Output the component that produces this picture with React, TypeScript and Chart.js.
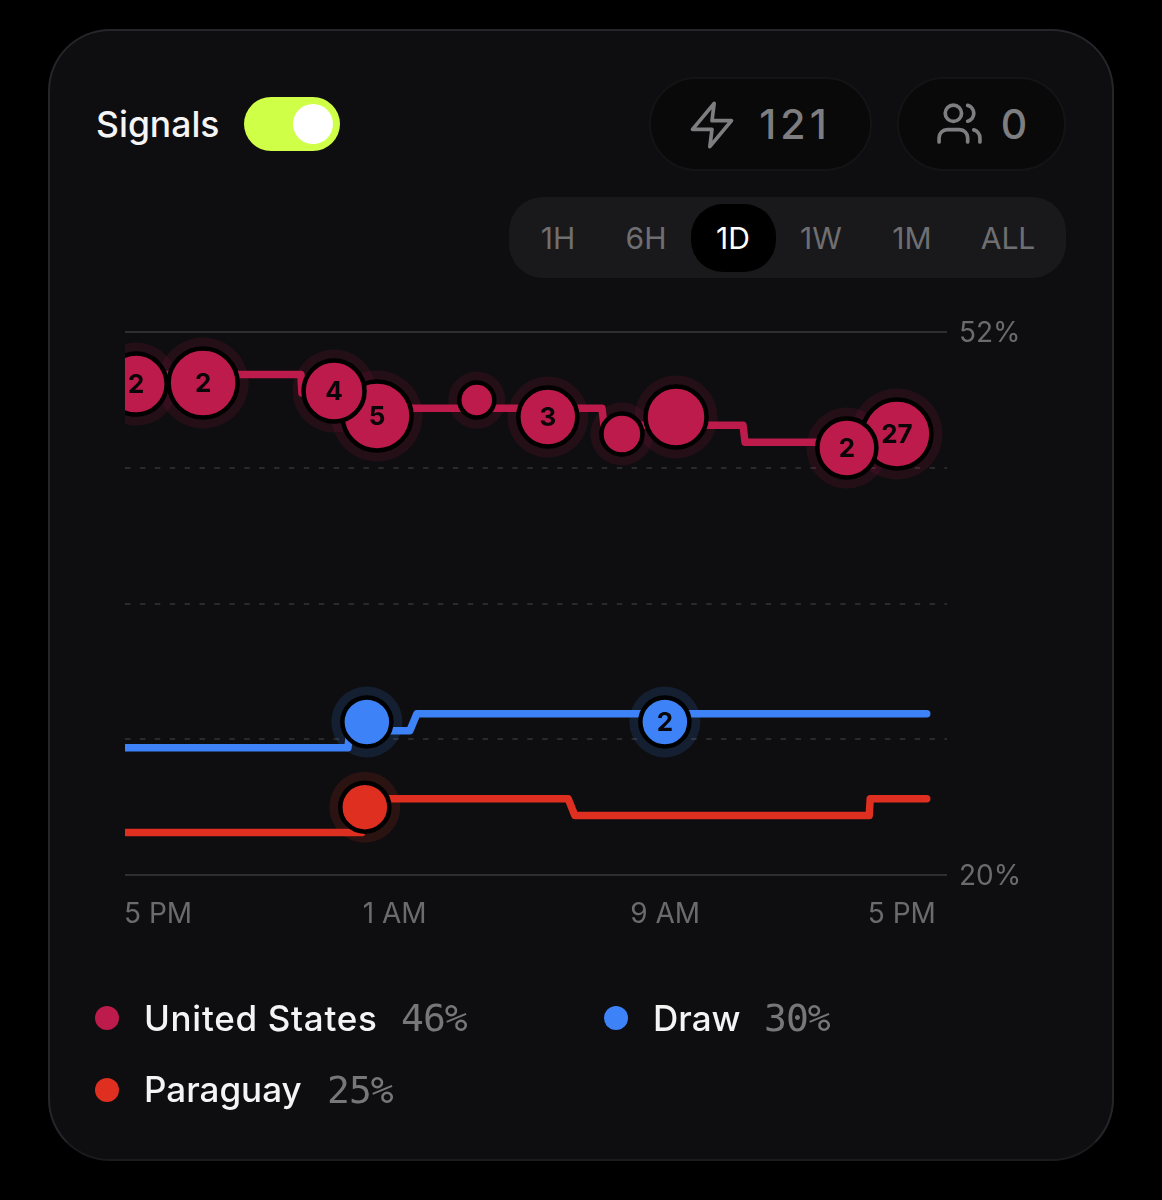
import React, { useEffect, useRef } from "react";
import { Chart, registerables } from "chart.js";

Chart.register(...registerables);

const xTickHours = [0, 8, 16, 24];
const xTickLabels = ["5 PM", "1 AM", "9 AM", "5 PM"];
const yTicks = [20, 28, 36, 44, 52];
const yTickLabels = ["20%", "", "", "", "52%"];
const timeTabs = ["1H", "6H", "1D", "1W", "1M", "ALL"];

const usLineX = [0, 5.2, 5.23, 6.5, 6.56, 14.1, 14.16, 18.27, 18.33, 23.7];
const usLineY = [49.5, 49.5, 48.4, 48.4, 47.5, 47.5, 46.5, 46.5, 45.5, 45.5];
const drawLineX = [0, 6.59, 6.65, 8.42, 8.63, 23.7];
const drawLineY = [27.5, 27.5, 28.5, 28.5, 29.5, 29.5];
const paraguayLineX = [0, 7.0, 7.18, 13.1, 13.3, 22.0, 22.03, 23.7];
const paraguayLineY = [22.5, 22.5, 24.5, 24.5, 23.5, 23.5, 24.5, 24.5];

const usSignalX = [0.33, 2.31, 7.45, 6.18, 10.4, 12.5, 14.69, 16.29, 22.82, 21.34];
const usSignalY = [48.93, 48.99, 47.05, 48.52, 47.99, 46.99, 45.99, 46.99, 45.99, 45.16];
const usSignalR = [30.5, 34.5, 34.5, 30.5, 17.5, 29.5, 20.5, 30.5, 34.5, 29.5];
const usSignalCount = ["2", "2", "5", "4", "", "3", "", "", "27", "2"];
const drawSignalX = [7.15, 15.96];
const drawSignalY = [29.02, 29.02];
const drawSignalR = [24.5, 24.5];
const drawSignalCount = ["", "2"];
const paraguaySignalX = [7.09];
const paraguaySignalY = [24.0];
const paraguaySignalR = [24.5];
const paraguaySignalCount = [""];

const US = "#BC1B4C";
const BLUE = "#3D83F7";
const RED = "#DE2F21";
const HALO = 9;
const FONT = "Inter, 'Noto Sans', sans-serif";

const line = (label: string, xs: number[], ys: number[], color: string) => ({
  type: "line" as const,
  label,
  data: xs.map((x, i) => ({ x, y: ys[i] })),
  borderColor: color,
  borderWidth: 7.5,
  borderJoinStyle: "round" as const,
  borderCapStyle: "round" as const,
  pointRadius: 0,
  tension: 0,
  order: 1,
  clip: { left: 0, top: false, right: false, bottom: false },
});

const signals = (label: string, xs: number[], ys: number[], rs: number[], counts: string[], color: string) => ({
  type: "bubble" as const,
  label,
  counts,
  data: xs.map((x, i) => ({ x, y: ys[i], r: rs[i] })),
  backgroundColor: color,
  borderColor: "#000000",
  borderWidth: 4.5,
  order: 0,
  clip: { left: 0, top: false, right: false, bottom: false },
});

const halos = (label: string, xs: number[], ys: number[], rs: number[], color: string) => ({
  type: "bubble" as const,
  label,
  data: xs.map((x, i) => ({ x, y: ys[i], r: rs[i] + 2 + HALO })),
  backgroundColor: color,
  borderWidth: 0,
  order: 2,
  clip: { left: 0, top: false, right: false, bottom: false },
});

const countLabels = {
  id: "countLabels",
  afterDatasetsDraw(chart: any) {
    const ctx = chart.ctx;
    ctx.save();
    ctx.font = `700 26px ${FONT}`;
    ctx.fillStyle = "#0a0508";
    ctx.textAlign = "center";
    ctx.textBaseline = "middle";
    chart.data.datasets.forEach((ds: any, i: number) => {
      if (!ds.counts) return;
      chart.getDatasetMeta(i).data.forEach((el: any, j: number) => {
        if (ds.counts[j]) ctx.fillText(ds.counts[j], el.x, el.y + 1.5);
      });
    });
    ctx.restore();
  },
};

const abs = (left: number, top: number, extra: React.CSSProperties = {}): React.CSSProperties => ({
  position: "absolute",
  left,
  top,
  ...extra,
});

function Centered({ cx, cy, children, style }: { cx: number; cy: number; children: React.ReactNode; style: React.CSSProperties }) {
  return (
    <div style={{ position: "absolute", left: cx, top: cy, transform: "translate(-50%,-50%)", whiteSpace: "nowrap", fontFamily: FONT, ...style }}>
      {children}
    </div>
  );
}

function LeftText({ x, cy, children, style }: { x: number; cy: number; children: React.ReactNode; style: React.CSSProperties }) {
  return (
    <div style={{ position: "absolute", left: x, top: cy, transform: "translateY(-50%)", whiteSpace: "nowrap", fontFamily: FONT, ...style }}>
      {children}
    </div>
  );
}

const legendName: React.CSSProperties = { color: "#F4F4F5", fontSize: 35, fontWeight: 500 };
const legendPct: React.CSSProperties = {
  color: "#77777A",
  fontSize: 38,
  fontFamily: "'DejaVu Sans Mono', monospace",
  letterSpacing: -1,
};
const dot = (cx: number, cy: number, color: string): React.CSSProperties => ({
  position: "absolute",
  left: cx - 12,
  top: cy - 12,
  width: 24,
  height: 24,
  borderRadius: "50%",
  background: color,
});

export default function App() {
  const ref = useRef<HTMLCanvasElement>(null);

  useEffect(() => {
    const chart = new Chart(ref.current!, {
      type: "line",
      data: {
        datasets: [
          signals("United States signals", usSignalX, usSignalY, usSignalR, usSignalCount, US),
          signals("Draw signals", drawSignalX, drawSignalY, drawSignalR, drawSignalCount, BLUE),
          signals("Paraguay signals", paraguaySignalX, paraguaySignalY, paraguaySignalR, paraguaySignalCount, RED),
          line("United States", usLineX, usLineY, US),
          line("Draw", drawLineX, drawLineY, BLUE),
          line("Paraguay", paraguayLineX, paraguayLineY, RED),
          halos("United States halo", usSignalX, usSignalY, usSignalR, "rgba(188,27,76,0.13)"),
          halos("Draw halo", drawSignalX, drawSignalY, drawSignalR, "rgba(61,131,247,0.15)"),
          halos("Paraguay halo", paraguaySignalX, paraguaySignalY, paraguaySignalR, "rgba(222,47,33,0.14)"),
        ] as any,
      },
      options: {
        animation: false,
        responsive: false,
        events: [],
        layout: { padding: { left: 125, top: 332, right: 125, bottom: 275 } },
        plugins: { legend: { display: false }, tooltip: { enabled: false } },
        scales: {
          x: {
            type: "linear",
            min: 0,
            max: 24.3,
            grid: { display: false, drawTicks: false },
            border: { display: false },
            afterBuildTicks: (s: any) => {
              s.ticks = xTickHours.map((value) => ({ value }));
            },
            afterFit: (s: any) => {
              s.height = 50;
            },
            ticks: {
              autoSkip: false,
              maxRotation: 0,
              align: "inner",
              padding: 23,
              labelOffset: -1,
              color: "#6B6B6E",
              font: { family: FONT, size: 28 },
              callback: (v: any) => xTickLabels[xTickHours.indexOf(v)] ?? "",
            },
          },
          y: {
            type: "linear",
            position: "right",
            min: 20,
            max: 52,
            afterBuildTicks: (s: any) => {
              s.ticks = yTicks.map((value) => ({ value }));
            },
            afterFit: (s: any) => {
              s.width = 90;
            },
            grid: {
              drawTicks: false,
              lineWidth: 2,
              color: (c: any) => (c.tick && (c.tick.value === 20 || c.tick.value === 52) ? "#2E2E30" : "#2A2A2C"),
            },
            border: {
              display: false,
              dash: (c: any) => (c.tick && (c.tick.value === 20 || c.tick.value === 52) ? [] : [5.5, 9.4]),
            } as any,
            ticks: {
              autoSkip: false,
              padding: 12,
              labelOffset: 2,
              color: "#6B6B6E",
              font: { family: FONT, size: 28 },
              callback: (v: any) => yTickLabels[yTicks.indexOf(v)] ?? "",
            },
          },
        },
      },
      plugins: [countLabels],
    } as any);
    return () => chart.destroy();
  }, []);

  const tabCenters = [558, 646, 733, 821, 912, 1008];

  return (
    <div style={{ position: "absolute", left: 0, top: 0, width: 1162, height: 1200, background: "#000", overflow: "hidden" }}>
      <style>{`body{margin:0;background:#000}`}</style>

      <div style={abs(48, 29, { width: 1066, height: 1132, boxSizing: "border-box", background: "#0E0E10", border: "2px solid #26262A", borderBottomColor: "#1B1B1E", borderRadius: 62 })} />

      <LeftText x={96} cy={124} style={{ color: "#F4F4F5", fontSize: 35.5, fontWeight: 500 }}>Signals</LeftText>
      <div style={abs(244, 97, { width: 96, height: 54, borderRadius: 27, background: "#CFFF47" })} />
      <div style={abs(293, 104, { width: 40, height: 40, borderRadius: "50%", background: "#FFFFFF" })} />

      <div style={abs(649, 77, { width: 223, height: 94, boxSizing: "border-box", borderRadius: 47, background: "#09090A", border: "2px solid #141416" })} />
      <div style={abs(897, 77, { width: 169, height: 94, boxSizing: "border-box", borderRadius: 47, background: "#09090A", border: "2px solid #141416" })} />

      <svg style={abs(686, 99)} width={52} height={52} viewBox="0 0 24 24" fill="none" stroke="#7E7E80" strokeWidth={1.7} strokeLinejoin="round" strokeLinecap="round">
        <path d="M13 2 3 14h9l-1 8 10-12h-9l1-8z" />
      </svg>
      <svg style={abs(935, 99)} width={49} height={49} viewBox="0 0 24 24" fill="none" stroke="#7E7E80" strokeWidth={1.8} strokeLinejoin="round" strokeLinecap="round">
        <path d="M16 21v-2a4 4 0 0 0-4-4H6a4 4 0 0 0-4 4v2" />
        <circle cx={9} cy={7} r={4} />
        <path d="M22 21v-2a4 4 0 0 0-3-3.87" />
        <path d="M16 3.13a4 4 0 0 1 0 7.75" />
      </svg>
      <Centered cx={795} cy={124} style={{ color: "#7E7E80", fontSize: 41, fontWeight: 500, letterSpacing: 4 }}>121</Centered>
      <Centered cx={1014} cy={124} style={{ color: "#7E7E80", fontSize: 41, fontWeight: 500 }}>0</Centered>

      <div style={abs(509, 197, { width: 557, height: 81, borderRadius: 34, background: "#19191B" })} />
      <div style={abs(691, 204, { width: 85, height: 68, borderRadius: 32, background: "#000" })} />
      {timeTabs.map((t, i) => (
        <Centered key={t} cx={tabCenters[i]} cy={238} style={{ color: t === "1D" ? "#FFFFFF" : "#6F6F72", fontSize: 30, fontWeight: 400 }}>
          {t}
        </Centered>
      ))}

      <canvas ref={ref} width={1162} height={1200} style={abs(0, 0, { width: 1162, height: 1200 })} />

      <div style={dot(107, 1018, US)} />
      <LeftText x={144} cy={1018} style={{ ...legendName, letterSpacing: 0.7 }}>United States</LeftText>
      <LeftText x={401} cy={1018} style={legendPct}>46%</LeftText>
      <div style={dot(616, 1018, BLUE)} />
      <LeftText x={653} cy={1018} style={legendName}>Draw</LeftText>
      <LeftText x={764} cy={1018} style={legendPct}>30%</LeftText>
      <div style={dot(107, 1090, RED)} />
      <LeftText x={144} cy={1089} style={legendName}>Paraguay</LeftText>
      <LeftText x={327} cy={1090} style={legendPct}>25%</LeftText>
    </div>
  );
}
